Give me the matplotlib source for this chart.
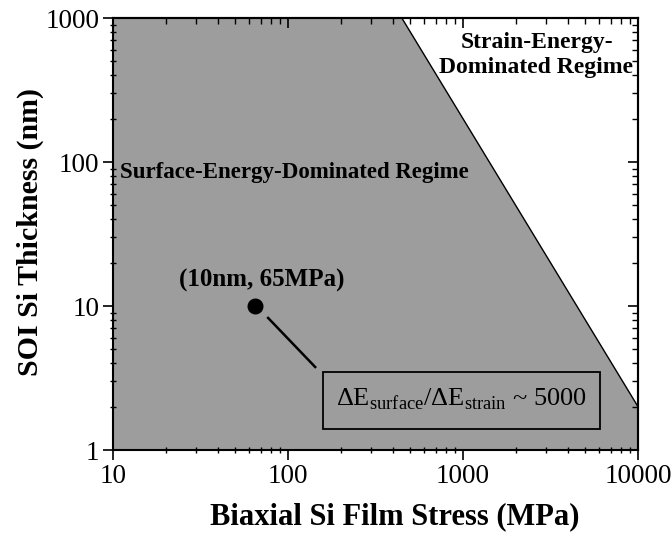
import matplotlib
matplotlib.use('Agg')
import matplotlib.pyplot as plt
from matplotlib.patches import Rectangle
from matplotlib.ticker import LogLocator, FixedLocator, NullFormatter

plt.rcParams['font.family'] = ['Liberation Serif', 'DejaVu Serif']
plt.rcParams['mathtext.fontset'] = 'custom'
plt.rcParams['mathtext.rm'] = 'Liberation Serif'

# ---------------------------------------------------------------------------
# Data
# ---------------------------------------------------------------------------
boundary_stress = [10, 447, 10000]       # MPa
boundary_thickness = [1000, 1000, 2]     # nm, t ~ sigma^-2 edge of the regime
point_stress = 65
point_thickness = 10
point_label = '(10nm, 65MPa)'
ratio_label = r'$\Delta$E$_{\mathrm{surface}}$/$\Delta$E$_{\mathrm{strain}}$ ~ 5000'
x_ticks = [10, 100, 1000, 10000]
y_ticks = [1, 10, 100, 1000]

fig = plt.figure(figsize=(6.72, 5.37), dpi=100)
ax = fig.add_axes([113/672, 1 - 450/537, (638-113)/672, (450-18)/537])
ax.set_xscale('log')
ax.set_yscale('log')
ax.set_xlim(10, 10000)
ax.set_ylim(1, 1000)

# shaded surface-energy regime + its edge
ax.fill_between(boundary_stress, boundary_thickness, 1, color='#9d9d9d', lw=0, zorder=0)
ax.plot(boundary_stress[1:], boundary_thickness[1:], color='black', lw=1.0, zorder=1)

# operating point and its annotation
ax.plot(point_stress, point_thickness, 'o', color='black', ms=10.5, zorder=3)
ax.plot([77, 143], [8.26, 3.77], color='black', lw=1.8, zorder=3)
ax.text(71, 15.0, point_label, ha='center', va='center', fontsize=18, fontweight='bold')

ax.add_patch(Rectangle((158, 1.40), 6067 - 158, 3.48 - 1.40, fill=False,
                       edgecolor='black', lw=1.3, zorder=3))
ax.text(980, 2.25, ratio_label, ha='center', va='center', fontsize=19)

ax.text(11.0, 84, 'Surface-Energy-Dominated Regime', ha='left', va='center',
        fontsize=16.5, fontweight='bold')
ax.text(2650, 681, 'Strain-Energy-', ha='center', va='center',
        fontsize=17, fontweight='bold')
ax.text(2600, 450, 'Dominated Regime', ha='center', va='center',
        fontsize=17, fontweight='bold')

# ticks: outward on bottom/left, inward on top/right
ax.xaxis.set_major_locator(FixedLocator(x_ticks))
ax.yaxis.set_major_locator(FixedLocator(y_ticks))
ax.set_xticklabels([str(v) for v in x_ticks])
ax.set_yticklabels([str(v) for v in y_ticks])
ax.xaxis.set_minor_locator(LogLocator(base=10, subs=range(2, 10)))
ax.yaxis.set_minor_locator(LogLocator(base=10, subs=range(2, 10)))
ax.xaxis.set_minor_formatter(NullFormatter())
ax.yaxis.set_minor_formatter(NullFormatter())
ax.tick_params(which='major', direction='out', length=7, width=1.2, labelsize=19.5, pad=3)
ax.tick_params(which='minor', direction='inout', length=5, width=1.0)

for side in ('top', 'right'):
    sec = ax.secondary_xaxis('top') if side == 'top' else ax.secondary_yaxis('right')
    axis = sec.xaxis if side == 'top' else sec.yaxis
    axis.set_major_locator(FixedLocator(x_ticks if side == 'top' else y_ticks))
    axis.set_minor_locator(LogLocator(base=10, subs=range(2, 10)))
    axis.set_major_formatter(NullFormatter())
    axis.set_minor_formatter(NullFormatter())
    sec.tick_params(which='major', direction='in', length=7, width=1.2)
    sec.tick_params(which='minor', direction='in', length=4, width=1.0)
    sec.spines[side].set_linewidth(1.5)

for s in ax.spines.values():
    s.set_linewidth(1.5)

ax.set_xlabel('Biaxial Si Film Stress (MPa)', fontsize=22, fontweight='bold', va='center')
ax.set_ylabel('SOI Si Thickness (nm)', fontsize=21.5, fontweight='bold', va='center')
ax.xaxis.set_label_coords(0.537, -0.155)
ax.yaxis.set_label_coords(-0.158, 0.505)

fig.savefig('out.png', dpi=100)
